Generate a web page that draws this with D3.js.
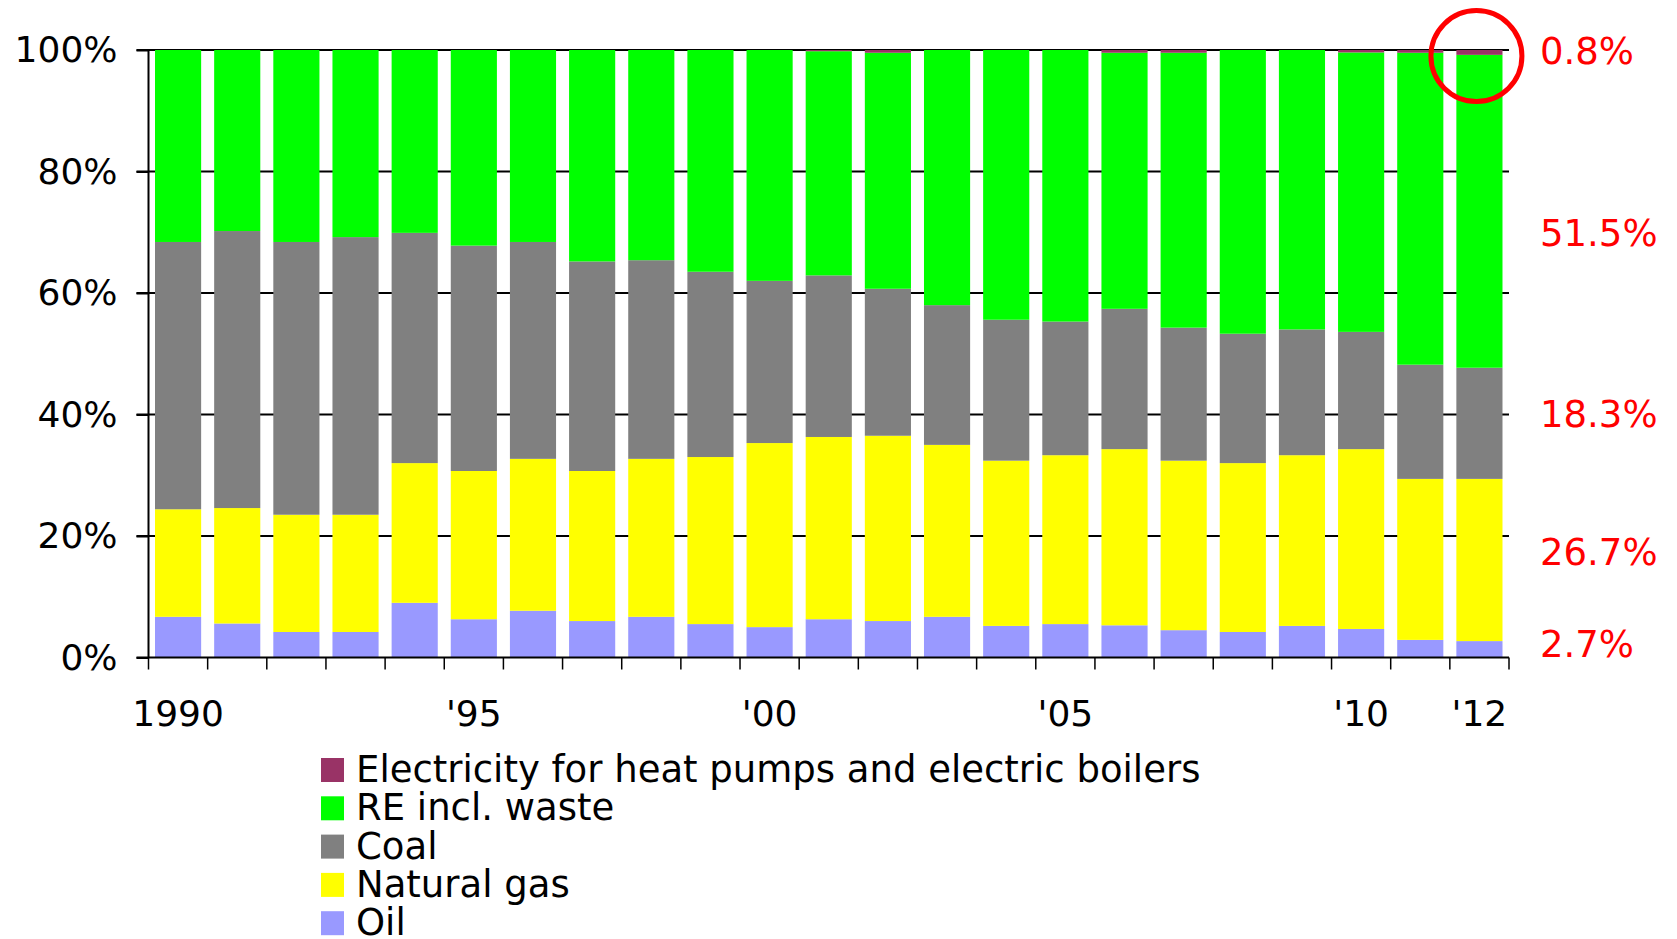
<!DOCTYPE html>
<html>
<head>
<meta charset="utf-8">
<script src="https://cdn.jsdelivr.net/npm/d3@7"></script>
<style>
  html, body { margin: 0; padding: 0; background: #fff; }
  svg { display: block; font-family: "DejaVu Sans", Verdana, sans-serif; }
</style>
</head>
<body>
<div id="chart"></div>
<script>
// Data (shares in %)
const years = d3.range(1990, 2013);
const oil   = [6.7, 5.6, 4.2, 4.2, 9.0, 6.3, 7.7, 6.0, 6.7, 5.5, 5.0, 6.3, 6.0, 6.7, 5.2, 5.5, 5.3, 4.5, 4.2, 5.2, 4.7, 2.9, 2.7];
const gas   = [17.7, 19.0, 19.3, 19.3, 23.0, 24.4, 25.0, 24.7, 26.0, 27.5, 30.3, 30.0, 30.5, 28.3, 27.2, 27.8, 29.0, 27.9, 27.8, 28.1, 29.6, 26.5, 26.7];
const coal  = [44.0, 45.6, 44.9, 45.7, 37.9, 37.1, 35.7, 34.5, 32.7, 30.5, 26.7, 26.6, 24.2, 23.0, 23.2, 22.0, 23.1, 21.9, 21.3, 20.7, 19.3, 18.8, 18.3];
const re    = [31.6, 29.8, 31.6, 30.8, 30.1, 32.2, 31.6, 34.8, 34.6, 36.5, 38.0, 36.9, 38.85, 42.0, 44.4, 44.7, 42.15, 45.25, 46.7, 46.0, 46.0, 51.35, 51.5];
const elec  = [0, 0, 0, 0, 0, 0, 0, 0, 0, 0, 0, 0.2, 0.45, 0, 0, 0, 0.45, 0.45, 0, 0, 0.4, 0.45, 0.8];

const seriesKeys   = ["oil", "gas", "coal", "re", "elec"];
const seriesNames  = ["Oil", "Natural gas", "Coal", "RE incl. waste", "Electricity for heat pumps and electric boilers"];
const seriesColors = ["#9999ff", "#ffff00", "#808080", "#00ff00", "#993366"];

const yTicks = [0, 20, 40, 60, 80, 100];
const xLabelYears = [1990, 1995, 2000, 2005, 2010, 2012];
const xLabels = ["1990", "'95", "'00", "'05", "'10", "'12"];

// 2012 call-outs: text and the level (in %) of its baseline
const calloutText = ["0.8%", "51.5%", "18.3%", "26.7%", "2.7%"];
const calloutAt   = [97.7, 67.8, 38.0, 15.2, 0.1];

// build table for stack
const table = years.map((yr, i) => ({
  year: yr, oil: oil[i], gas: gas[i], coal: coal[i], re: re[i], elec: elec[i]
}));

const W = 1677, H = 939;
const plotL = 148.5, plotR = 1509, plotT = 50, plotB = 657.5;

const svg = d3.select("#chart").append("svg")
  .attr("width", W)
  .attr("height", H);

const x = d3.scaleBand()
  .domain(years)
  .range([plotL, plotR])
  .paddingInner(0.22)
  .paddingOuter(0.11);

const y = d3.scaleLinear().domain([0, 100]).range([plotB, plotT]);

const color = d3.scaleOrdinal().domain(seriesKeys).range(seriesColors);

// Gridlines (behind bars)
svg.append("g").selectAll("line.grid")
  .data(yTicks.filter(d => d > 0))
  .enter().append("line")
  .attr("class", "grid")
  .attr("x1", plotL - 12)
  .attr("x2", plotR)
  .attr("y1", d => y(d))
  .attr("y2", d => y(d))
  .attr("stroke", "#000")
  .attr("stroke-width", 2);

// Stacked bars
const stacked = d3.stack().keys(seriesKeys)(table);

svg.append("g").selectAll("g.layer")
  .data(stacked)
  .enter().append("g")
  .attr("class", "layer")
  .attr("fill", d => color(d.key))
  .selectAll("rect")
  .data(d => d)
  .enter().append("rect")
  .attr("x", d => x(d.data.year))
  .attr("y", d => y(Math.min(d[1], 100)))
  .attr("width", x.bandwidth())
  .attr("height", d => y(d[0]) - y(Math.min(d[1], 100)));

// Y axis
const yAxis = svg.append("g")
  .attr("transform", `translate(${plotL},0)`)
  .call(d3.axisLeft(y).tickValues(yTicks).tickFormat(d => d + "%").tickSize(12).tickPadding(19));
yAxis.select(".domain").attr("stroke", "#000").attr("stroke-width", 2).attr("d", `M0,${plotT}V${plotB}`);
yAxis.selectAll(".tick line").attr("stroke", "#000").attr("stroke-width", 2);
yAxis.selectAll(".tick text")
  .attr("font-size", 36)
  .attr("fill", "#000")
  .attr("font-family", "DejaVu Sans, sans-serif");

// X axis line
svg.append("line")
  .attr("x1", plotL - 12)
  .attr("x2", plotR)
  .attr("y1", plotB)
  .attr("y2", plotB)
  .attr("stroke", "#000")
  .attr("stroke-width", 2);

// X ticks at category boundaries
const step = x.step();
const edges = years.map(yr => x(yr) - step * x.paddingInner() / 2).concat([plotR]);
svg.append("g").selectAll("line.xtick")
  .data(edges)
  .enter().append("line")
  .attr("class", "xtick")
  .attr("x1", d => d)
  .attr("x2", d => d)
  .attr("y1", plotB)
  .attr("y2", plotB + 12)
  .attr("stroke", "#000")
  .attr("stroke-width", 1.5);

// X labels
svg.append("g").selectAll("text.xlab")
  .data(xLabelYears)
  .enter().append("text")
  .attr("class", "xlab")
  .attr("x", d => x(d) + x.bandwidth() / 2)
  .attr("y", plotB + 68)
  .attr("text-anchor", "middle")
  .attr("font-size", 36)
  .text((d, i) => xLabels[i]);

// Red call-out circle on the 2012 electricity share
svg.append("circle")
  .attr("cx", x(2012) + x.bandwidth() / 2 - 3)
  .attr("cy", y(99))
  .attr("r", 45.5)
  .attr("fill", "none")
  .attr("stroke", "#ff0000")
  .attr("stroke-width", 5);

// Red call-out values
svg.append("g").selectAll("text.callout")
  .data(calloutText)
  .enter().append("text")
  .attr("class", "callout")
  .attr("x", plotR + 31)
  .attr("y", (d, i) => y(calloutAt[i]))
  .attr("font-size", 37)
  .attr("fill", "#ff0000")
  .text(d => d);

// Legend (top to bottom: reverse of stack order)
const legendItems = seriesKeys.map((k, i) => ({ key: k, name: seriesNames[i] })).reverse();
const leg = svg.append("g").attr("transform", "translate(321,782)");
legendItems.forEach((d, i) => {
  leg.append("rect")
    .attr("x", 0)
    .attr("y", i * 38.3 - 24)
    .attr("width", 23)
    .attr("height", 24)
    .attr("fill", color(d.key));
  leg.append("text")
    .attr("x", 35)
    .attr("y", i * 38.3)
    .attr("font-size", 37)
    .attr("fill", "#000")
    .text(d.name);
});
</script>
</body>
</html>
